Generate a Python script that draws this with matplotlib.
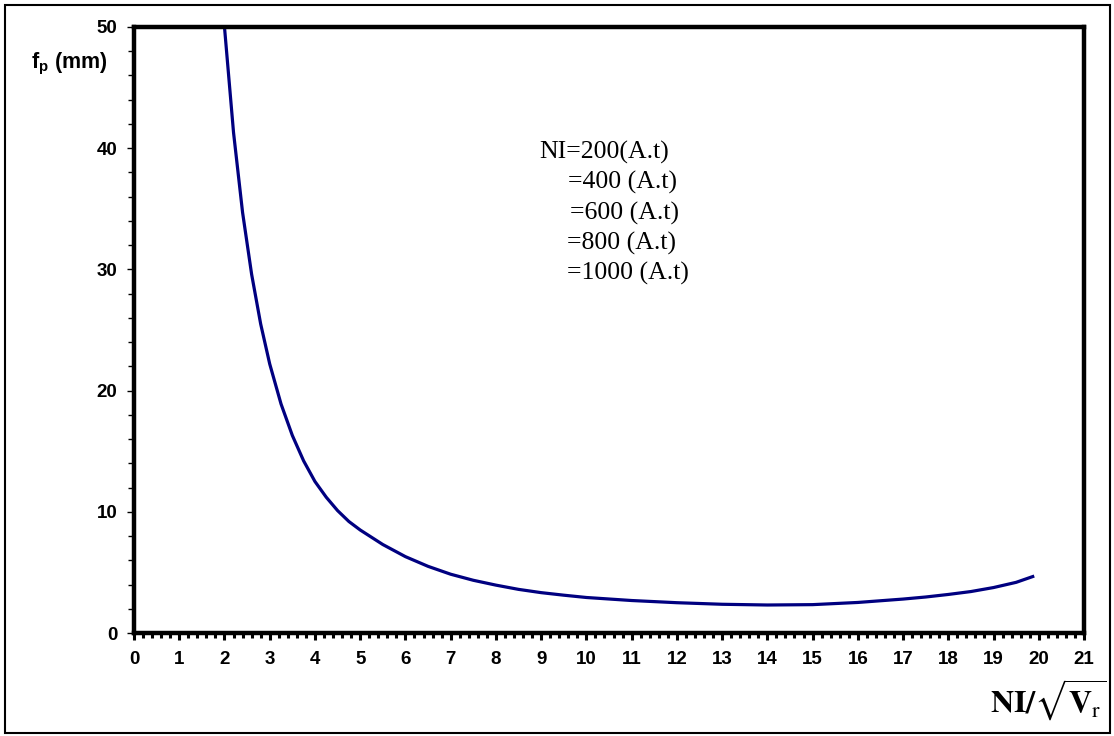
import numpy as np
import matplotlib
matplotlib.use("Agg")
import matplotlib.pyplot as plt
from matplotlib.patches import Rectangle
from matplotlib.ticker import MultipleLocator

plt.rcParams['font.family'] = ['Liberation Sans', 'DejaVu Sans']
plt.rcParams['mathtext.fontset'] = 'custom'
plt.rcParams['mathtext.rm'] = 'Liberation Sans'
plt.rcParams['mathtext.bf'] = 'Liberation Sans:bold'

# focal length vs NI/sqrt(Vr)
ratio = [2.0, 2.2, 2.4, 2.6, 2.8, 3.0, 3.25, 3.5, 3.75, 4.0, 4.25, 4.5,
         4.75, 5.0, 5.5, 6.0, 6.5, 7.0, 7.5, 8.0, 8.5, 9.0, 9.5, 10.0,
         11.0, 12.0, 13.0, 14.0, 15.0, 16.0, 17.0, 17.5, 18.0, 18.5, 19.0,
         19.5, 19.9]
focal = [50.0, 41.3, 34.7, 29.6, 25.5, 22.2, 18.9, 16.3, 14.2, 12.5, 11.2,
         10.1, 9.2, 8.5, 7.3, 6.3, 5.5, 4.85, 4.35, 3.95, 3.6, 3.33, 3.12,
         2.93, 2.68, 2.5, 2.37, 2.31, 2.34, 2.52, 2.8, 2.97, 3.18, 3.42,
         3.75, 4.18, 4.7]

ni_labels = ['NI=200(A.t)', '=400 (A.t)', '=600 (A.t)', '=800 (A.t)',
             '=1000 (A.t)']
label_x = [539, 568, 570, 567, 567]
label_y = [152, 182, 213, 243, 273]

W, H = 1114, 736
fig = plt.figure(figsize=(W / 100, H / 100), dpi=100)
ax = fig.add_axes([134 / W, 1 - 633 / H, 950 / W, 606 / H])

ax.plot(ratio, focal, color='#000080', lw=2.3, solid_joinstyle='round',
        solid_capstyle='butt')

ax.set_xlim(0, 21)
ax.set_ylim(0, 50)
ax.xaxis.set_major_locator(MultipleLocator(1))
ax.xaxis.set_minor_locator(MultipleLocator(0.2))
ax.yaxis.set_major_locator(MultipleLocator(10))
ax.yaxis.set_minor_locator(MultipleLocator(2))

for s in ax.spines.values():
    s.set_linewidth(3.2)
ax.tick_params(axis='x', which='major', direction='out', length=5, width=2.2,
               pad=8, labelsize=13.5)
ax.tick_params(axis='x', which='minor', direction='out', length=3.5, width=2.2)
ax.tick_params(axis='y', which='major', direction='out', length=5, width=1,
               pad=7, labelsize=13.5)
ax.tick_params(axis='y', which='minor', direction='out', length=4, width=1)
for lab in ax.get_xticklabels() + ax.get_yticklabels():
    lab.set_fontweight('bold')

# axis titles
fig.text(69 / W, 1 - 64 / H, r'$\mathbf{f}_\mathbf{p}$ (mm)', ha='center',
         va='center', fontsize=15.5, fontweight='bold')
fig.text(1048 / W, 1 - 700 / H, r'$\mathbf{NI/}\sqrt{\mathbf{V}_{\mathrm{r}}}$',
         ha='center', va='center', fontsize=23, math_fontfamily='stix')

for txt, tx, ty in zip(ni_labels, label_x, label_y):
    fig.text(tx / W, 1 - ty / H, txt, ha='left', va='center', fontsize=18.5,
             family='Liberation Serif')

# outer frame
fig.patches.append(Rectangle((5 / W, 3 / H), 1105 / W, 728 / H,
                             transform=fig.transFigure, fill=False,
                             edgecolor='black', lw=1.5))

fig.savefig('out.png', dpi=100)
